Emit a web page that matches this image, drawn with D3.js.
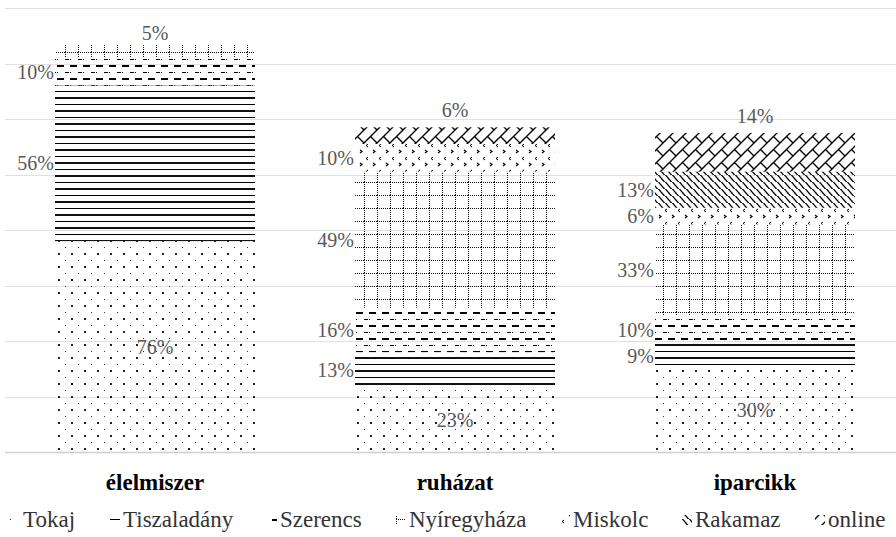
<!DOCTYPE html>
<html>
<head>
<meta charset="utf-8">
<script src="https://cdn.jsdelivr.net/npm/d3@7"></script>
<style>
  html, body { margin: 0; padding: 0; background: #fff; }
  svg { display: block; font-family: "Liberation Serif", "Times New Roman", serif; }
</style>
</head>
<body>
<svg id="chart" width="896" height="537"></svg>
<script>
const categories = ["élelmiszer", "ruházat", "iparcikk"];
const seriesNames = ["Tokaj", "Tiszaladány", "Szerencs", "Nyíregyháza", "Miskolc", "Rakamaz", "online"];
const tokaj       = [76, 23, 30];
const tiszaladany = [56, 13, 9];
const szerencs    = [10, 16, 10];
const nyiregyhaza = [5, 49, 33];
const miskolc     = [0, 10, 6];
const rakamaz     = [0, 0, 13];
const online      = [0, 6, 14];
const yTicks = [0, 20, 40, 60, 80, 100, 120, 140, 160];

const seriesValues = [tokaj, tiszaladany, szerencs, nyiregyhaza, miskolc, rakamaz, online];
const table = categories.map((c, i) => {
  const row = { cat: c };
  seriesNames.forEach((s, j) => row[s] = seriesValues[j][i]);
  return row;
});

const W = 896, H = 537;
const svg = d3.select("#chart");
const defs = svg.append("defs");

function pat(id, w, h) {
  return defs.append("pattern").attr("id", id).attr("patternUnits", "userSpaceOnUse")
    .attr("width", w).attr("height", h);
}
// Tokaj: dots
let p = pat("p0", 13, 13);
p.append("rect").attr("x", 0).attr("y", 0).attr("width", 1).attr("height", 1).attr("fill", "#333");
p.append("rect").attr("x", 6).attr("y", 6).attr("width", 2).attr("height", 2).attr("fill", "#222");
// Tiszaladány: horizontal lines thin/thick
p = pat("p1", 13, 13);
p.append("rect").attr("x", 0).attr("y", 0).attr("width", 13).attr("height", 1).attr("fill", "#000");
p.append("rect").attr("x", 0).attr("y", 6).attr("width", 13).attr("height", 2).attr("fill", "#111");
// Szerencs: dashed rows
p = pat("p2", 13, 13);
p.append("rect").attr("x", 5).attr("y", 0).attr("width", 7).attr("height", 2).attr("fill", "#000");
p.append("rect").attr("x", 0).attr("y", 7).attr("width", 4).attr("height", 1).attr("fill", "#000");
p.append("rect").attr("x", 5).attr("y", 7).attr("width", 1).attr("height", 1).attr("fill", "#000");
// Nyíregyháza: dotted grid
p = pat("p3", 13, 13);
for (let k = 0; k < 13; k += 2) {
  p.append("rect").attr("x", k).attr("y", 0).attr("width", 1).attr("height", 1).attr("fill", "#111");
  if (k > 0) p.append("rect").attr("x", 0).attr("y", k).attr("width", 1).attr("height", 1).attr("fill", "#111");
}
// Miskolc: small chevrons
p = pat("p4", 13, 13);
p.append("path").attr("d", "M4,1 L2,2.5 L4,4").attr("fill", "none").attr("stroke", "#000").attr("stroke-width", 1);
p.append("path").attr("d", "M9,7 L11,8.5 L9,10").attr("fill", "none").attr("stroke", "#000").attr("stroke-width", 1.2);
// Rakamaz: wavy diagonal
p = pat("p5", 7, 7);
p.append("path").attr("d", "M-1,-1 C1,0 2,2 3.5,3.5 S6,7 8,8").attr("fill", "none").attr("stroke", "#000").attr("stroke-width", 1.3);
// online: diagonal brick
p = pat("p6", 13, 13);
p.append("path").attr("d", "M-1,14 L14,-1 M6.5,6.5 L13,13 M-1,1 L1,-1 M12,14 L14,12")
  .attr("fill", "none").attr("stroke", "#000").attr("stroke-width", 1.4);

const patIds = ["p0", "p1", "p2", "p3", "p4", "p5", "p6"];

const x = d3.scaleBand().domain(categories).range([5, 905]).paddingInner(1 / 3).paddingOuter(1 / 6);
const y = d3.scaleLinear().domain([0, 160]).range([452, 8]);

svg.append("g").selectAll("line").data(yTicks).join("line")
  .attr("x1", 5).attr("x2", W)
  .attr("y1", d => Math.round(y(d)) + 0.5).attr("y2", d => Math.round(y(d)) + 0.5)
  .attr("stroke", d => d === 0 ? "#cfcfcf" : "#e0e0e0")
  .attr("stroke-width", d => d === 0 ? 1.5 : 1);

const stack = d3.stack().keys(seriesNames)(table);
const gBars = svg.append("g");
stack.forEach((layer, j) => {
  gBars.append("g").attr("fill", `url(#${patIds[j]})`)
    .selectAll("rect").data(layer.filter(d => d[1] - d[0] > 0)).join("rect")
    .attr("x", d => x(d.data.cat))
    .attr("width", x.bandwidth())
    .attr("y", d => y(d[1]))
    .attr("height", d => y(d[0]) - y(d[1]));
});

const lblColor = "#595959";
const gLbl = svg.append("g").attr("font-size", 20).attr("fill", lblColor);
categories.forEach((c, i) => {
  const segs = stack.map((layer, j) => ({ j, d: layer[i] })).filter(s => s.d[1] - s.d[0] > 0);
  segs.forEach((s, k) => {
    const v = s.d[1] - s.d[0];
    const mid = (y(s.d[0]) + y(s.d[1])) / 2;
    const t = gLbl.append("text").text(v + "%").attr("dominant-baseline", "central");
    if (k === 0) {
      t.attr("x", x(c) + x.bandwidth() / 2).attr("y", mid).attr("text-anchor", "middle");
    } else if (k === segs.length - 1) {
      t.attr("x", x(c) + x.bandwidth() / 2).attr("y", Math.max(y(s.d[1]) - 17, 33)).attr("text-anchor", "middle");
    } else {
      t.attr("x", x(c) - 1).attr("y", mid).attr("text-anchor", "end");
    }
  });
});

svg.append("g").selectAll("text").data(categories).join("text")
  .attr("x", d => x(d) + x.bandwidth() / 2).attr("y", 482)
  .attr("dominant-baseline", "central")
  .attr("text-anchor", "middle").attr("font-weight", "bold").attr("font-size", 23).attr("fill", "#000")
  .text(d => d);

const legend = svg.append("g").attr("font-size", 23).attr("fill", "#333");
const sw = 10, swGap = 3, itemGap = 34;
const items = seriesNames.map((s, j) => {
  const g = legend.append("g");
  g.append("rect").attr("x", 0).attr("y", -4).attr("width", sw).attr("height", sw).attr("fill", `url(#${patIds[j]})`);
  const t = g.append("text").attr("x", sw + swGap).attr("y", 0).attr("dominant-baseline", "central").text(s);
  return { g, w: sw + swGap + t.node().getComputedTextLength() };
});
const total = d3.sum(items, d => d.w) + itemGap * (items.length - 1);
let cx = W / 2 - total / 2;
items.forEach(it => {
  it.g.attr("transform", `translate(${Math.round(cx)},519)`);
  cx += it.w + itemGap;
});
</script>
</body>
</html>
